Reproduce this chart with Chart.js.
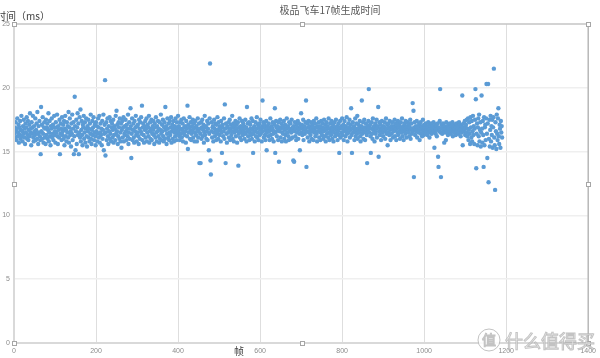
<!DOCTYPE html>
<html>
<head>
<meta charset="utf-8">
<script src="https://cdn.jsdelivr.net/npm/chart.js@4.4.1/dist/chart.umd.min.js"></script>
<style>
html,body{margin:0;padding:0;background:#fff;}
#wrap{width:600px;height:358px;position:relative;}
</style>
</head>
<body>
<div id="wrap"><canvas id="c" width="600" height="358"></canvas></div>
<script>
const chartTitle = "极品飞车17帧生成时间";
const yAxisTitle = "时间（ms）";
const xAxisTitle = "帧";
const xTicks = [0, 200, 400, 600, 800, 1000, 1200, 1400];
const yTicks = [0, 5, 10, 15, 20, 25];
// frame time (ms) for frames 1..1190
const frameTimes = [
16.4,16.9,16.1,17.3,16.6,15.9,16.8,17.6,16.2,16.5,17.1,15.7,16.9,16.3,17.4,16.0,16.7,17.8,16.2,16.6,
15.8,17.0,16.4,17.5,16.1,16.8,15.6,17.2,16.5,16.9,17.7,16.0,16.3,17.4,15.9,16.7,17.1,16.2,18.0,16.5,
16.8,15.5,17.3,16.4,16.9,17.8,16.1,15.8,17.0,16.6,16.3,17.6,15.9,16.7,17.2,16.0,18.1,16.4,15.6,17.0,
16.5,17.4,16.2,15.9,14.8,18.5,16.6,17.1,16.0,17.7,16.4,15.7,16.9,17.3,16.1,16.8,15.6,17.5,16.3,16.9,
17.2,16.0,16.7,18.0,15.8,16.5,17.4,16.2,15.5,17.0,16.8,17.6,16.1,16.4,17.1,15.9,16.9,17.8,16.3,16.6,
15.7,17.3,16.5,16.9,17.9,16.2,15.6,17.0,16.7,16.1,17.5,14.8,16.4,17.2,16.8,15.9,17.7,16.3,16.6,17.1,
16.0,17.4,15.5,16.8,17.8,16.2,16.7,15.8,17.3,16.5,17.0,16.1,18.1,15.7,16.9,17.6,16.3,16.6,15.4,17.2,
16.4,17.9,15.9,16.8,17.3,14.8,16.2,19.3,17.0,15.1,16.6,17.5,15.6,16.9,18.0,16.3,17.2,14.8,16.5,17.7,
16.1,18.3,15.8,16.7,17.4,16.3,15.5,17.1,16.9,17.8,16.0,16.5,17.3,15.7,16.8,17.6,16.2,15.4,17.0,16.6,
17.5,16.1,16.8,15.8,17.2,16.4,17.9,16.0,15.6,16.7,17.4,16.3,16.9,17.7,15.9,16.5,17.1,16.2,15.5,17.3,
16.6,17.0,15.8,16.4,17.6,16.9,16.1,17.8,15.7,16.5,17.2,16.3,16.8,15.5,17.4,16.0,16.7,17.9,15.1,16.4,
17.1,20.6,14.7,16.5,17.3,15.9,16.8,17.6,16.2,15.6,17.0,16.6,17.7,16.0,16.4,17.4,15.8,16.9,17.2,16.1,
16.7,17.5,15.7,16.3,17.0,16.8,15.9,17.8,16.4,18.2,16.6,17.1,15.6,16.2,17.3,16.9,16.0,17.6,16.5,15.8,
17.2,15.3,16.7,17.4,16.1,16.9,17.7,15.8,16.4,17.0,16.3,17.5,16.6,15.9,17.1,16.8,16.2,17.9,15.6,16.5,
17.3,16.0,16.8,18.4,17.0,14.5,16.4,17.6,15.9,16.7,17.2,16.1,15.7,17.4,16.6,16.9,17.8,16.3,15.8,17.0,
16.5,17.1,16.2,15.6,17.5,16.8,16.0,17.3,16.6,17.7,16.4,18.6,15.9,16.9,17.2,16.3,15.7,17.0,16.7,17.4,
16.1,16.8,17.6,15.8,16.5,17.1,16.9,16.2,17.8,15.7,16.6,17.3,16.0,16.8,17.5,15.9,16.4,17.0,16.7,17.4,
16.3,15.6,17.2,16.9,16.1,17.7,16.5,15.8,17.0,16.6,17.4,16.2,16.8,15.7,17.3,16.0,16.7,17.9,16.4,15.9,
17.1,16.6,17.5,16.2,15.8,16.9,17.3,16.0,18.5,16.7,17.0,15.6,16.4,17.6,16.8,16.1,17.2,15.9,16.5,17.4,
16.3,16.9,17.7,15.7,16.6,17.1,16.0,16.8,17.4,15.8,16.5,17.0,16.2,17.6,16.7,15.9,17.3,16.4,16.9,17.8,
16.6,17.0,16.2,15.9,17.3,16.8,16.4,17.5,16.1,16.7,17.2,15.8,16.5,17.6,16.9,16.3,17.0,16.6,15.7,17.4,
16.8,16.2,18.6,15.2,17.1,16.5,16.9,17.7,16.0,16.7,17.3,15.9,16.4,17.0,16.6,17.5,16.1,16.8,17.2,15.8,
16.5,17.4,16.9,16.3,17.0,15.8,16.7,17.6,16.1,16.6,17.2,14.1,16.8,16.4,14.1,17.3,16.0,16.9,17.5,16.2,
16.7,17.1,15.7,16.5,17.8,16.3,16.9,17.0,16.0,16.6,17.4,15.9,16.8,17.2,15.1,16.4,17.6,21.9,14.3,13.2,
16.6,17.3,16.1,16.9,17.0,15.8,16.5,17.5,16.8,16.2,17.2,16.7,15.9,17.1,16.4,17.7,16.6,16.0,17.3,16.8,
16.3,17.0,16.7,15.8,17.4,16.5,14.9,16.9,17.1,16.2,16.6,17.6,16.0,18.7,16.8,14.1,17.2,16.4,15.7,17.0,
16.9,16.5,17.3,16.1,16.7,17.5,15.9,16.8,17.1,16.3,16.6,17.8,16.0,16.9,17.2,15.8,16.5,17.0,16.7,17.4,
16.2,16.8,17.1,15.7,16.6,17.3,13.9,16.4,16.9,17.6,16.1,16.7,17.0,15.9,16.5,17.4,16.8,16.3,17.2,16.6,
17.0,16.0,16.8,17.5,16.4,16.9,15.8,18.5,16.6,17.2,16.2,16.7,17.3,15.9,16.5,17.1,16.8,16.3,17.6,16.0,
16.7,17.4,14.9,16.4,16.9,17.0,15.8,16.6,17.3,16.2,16.8,17.7,16.1,16.5,17.1,15.9,16.9,17.2,16.3,16.7,
17.5,16.4,16.8,15.8,17.0,19.0,16.6,17.3,16.1,16.9,17.1,16.3,15.9,16.7,17.4,15.1,16.5,17.0,16.8,16.2,
17.2,16.6,15.9,16.9,17.6,16.3,16.7,17.0,16.0,16.8,17.3,16.4,15.8,16.6,17.1,18.4,14.9,16.5,17.4,16.9,
16.2,17.0,16.7,15.9,17.3,14.2,16.6,16.9,17.5,16.1,16.8,17.2,15.8,16.5,17.0,16.4,16.9,17.4,16.0,16.7,
17.1,16.3,15.8,16.8,17.6,16.5,16.9,17.0,16.2,15.9,17.3,16.6,16.8,17.2,16.0,16.5,17.5,16.7,16.1,16.9,
14.3,17.0,14.2,16.6,17.3,16.2,16.8,15.9,17.1,16.5,16.9,17.4,16.0,16.7,17.2,16.4,15.1,16.8,17.0,18.0,
16.5,17.1,16.3,16.9,17.5,15.9,16.7,17.0,16.4,16.8,17.3,19.0,13.8,16.6,17.2,16.1,16.9,17.4,16.5,15.8,
17.0,16.7,16.3,17.3,16.8,16.0,16.6,17.1,16.9,15.9,17.4,16.5,16.7,17.2,16.2,16.9,17.6,16.4,15.8,17.0,
16.6,16.9,17.3,16.1,16.8,17.0,15.9,16.5,17.4,16.7,16.3,17.2,16.9,16.0,16.6,17.5,16.8,16.2,17.1,15.8,
16.7,17.3,16.4,16.9,17.0,16.1,17.6,16.5,15.9,16.8,17.2,16.6,16.3,17.4,16.9,16.0,16.7,17.1,15.8,16.5,
17.3,16.8,16.2,16.9,17.5,16.4,16.7,17.0,15.9,16.6,17.2,16.3,14.9,16.8,17.4,16.1,16.9,17.0,16.5,17.6,
16.3,16.8,17.1,15.9,16.6,17.4,16.9,16.2,17.0,16.7,17.7,16.4,15.8,16.8,17.2,16.5,16.9,17.5,16.1,16.7,
17.1,18.4,16.3,14.9,16.8,17.3,16.5,16.9,17.0,15.9,16.6,17.6,16.2,16.8,17.2,16.4,17.8,16.0,16.7,17.1,
16.5,16.9,17.4,16.2,15.8,16.7,17.0,19.0,16.4,16.8,17.3,16.0,16.6,17.5,16.9,15.9,16.5,17.2,16.8,16.3,
14.1,17.0,16.7,17.4,19.9,16.5,16.9,17.1,16.2,14.9,16.8,17.3,16.4,16.0,17.6,16.7,16.9,17.0,15.8,16.6,
17.2,16.4,16.8,17.5,16.1,16.9,17.0,18.5,14.6,16.6,17.3,16.3,16.8,17.1,15.9,16.7,17.4,16.5,16.9,16.2,
17.0,16.6,16.9,17.3,16.0,16.7,17.6,16.4,16.8,17.1,15.5,16.5,17.2,16.9,16.3,17.4,16.7,15.9,16.8,17.0,
16.4,17.3,16.8,16.1,17.0,16.6,16.9,17.5,16.2,16.7,17.2,15.9,16.8,17.0,16.5,17.4,16.3,16.9,17.1,16.6,
16.0,16.8,17.3,16.5,16.9,17.6,16.2,16.7,17.0,15.9,16.6,17.2,16.8,16.4,17.4,16.9,16.1,17.0,16.7,17.3,
16.5,16.8,17.1,16.2,16.9,17.5,16.0,16.7,17.2,16.4,16.8,18.8,16.6,18.2,13.0,16.9,17.3,16.3,16.7,17.0,
16.6,17.4,16.1,16.8,17.0,16.5,16.9,17.2,15.9,16.7,17.3,16.4,16.8,17.0,16.2,16.9,17.5,16.6,16.3,17.1,
16.7,16.9,16.4,17.2,16.6,16.8,17.0,16.3,16.9,17.3,16.5,16.7,16.1,17.1,16.8,16.6,17.2,16.4,16.9,17.0,
16.5,16.8,17.3,16.6,15.3,16.9,17.1,16.4,16.7,17.0,16.2,16.8,17.2,14.6,13.8,16.9,16.6,17.4,19.9,16.5,
13.0,16.8,17.1,16.4,16.9,17.2,16.6,16.7,15.7,17.0,16.5,16.8,15.9,17.3,16.6,16.9,17.0,16.3,16.8,17.1,
16.7,16.5,17.2,16.9,16.4,16.8,17.0,16.6,17.3,16.2,16.9,16.7,17.1,16.5,16.8,17.0,16.3,16.9,17.2,16.6,
16.8,17.0,16.4,16.9,17.3,16.6,16.7,17.1,16.2,16.8,17.0,16.5,19.4,15.5,16.9,17.2,16.6,16.8,17.4,16.3,
16.9,17.1,16.5,17.5,16.2,16.8,17.6,15.9,16.7,17.3,16.4,15.6,17.7,16.9,16.1,17.4,15.8,16.6,17.8,16.3,
17.0,15.6,16.8,17.5,19.9,19.1,13.7,16.4,17.2,15.5,16.9,17.6,16.2,17.9,15.8,16.7,17.3,15.4,16.5,19.4,
16.8,15.7,17.4,16.3,13.8,17.7,15.5,16.9,17.1,15.9,17.6,20.3,16.4,14.5,17.2,20.3,12.6,16.0,17.5,15.4,
16.7,17.8,15.8,17.0,16.3,17.5,15.3,16.9,17.7,21.5,16.1,15.5,12.0,17.3,16.6,15.2,17.9,16.4,15.9,17.6,
18.4,16.2,15.6,17.1,16.8,15.3,17.4,16.5,17.0,16.1
];
const frames = frameTimes.map((_, i) => i + 1);

const decor = {
  id: 'decor',
  beforeDraw(chart) {
    const ctx = chart.ctx;
    ctx.save();
    ctx.fillStyle = '#ffffff';
    ctx.fillRect(0, 0, chart.width, chart.height);
    ctx.restore();
  },
  afterDatasetsDraw(chart) {
    const ctx = chart.ctx;
    const a = chart.chartArea;
    ctx.save();
    ctx.strokeStyle = '#c4c4c4';
    ctx.lineWidth = 1.5;
    ctx.beginPath();
    ctx.moveTo(a.left, a.top); ctx.lineTo(a.right, a.top);
    ctx.stroke();
    ctx.strokeStyle = '#b8b8b8';
    ctx.lineWidth = 1.5;
    ctx.beginPath();
    ctx.moveTo(a.right, a.top); ctx.lineTo(a.right, a.bottom);
    ctx.stroke();
    ctx.strokeStyle = '#d9d9d9';
    ctx.lineWidth = 2;
    ctx.beginPath();
    ctx.moveTo(a.left, a.top); ctx.lineTo(a.left, a.bottom);
    ctx.moveTo(a.left, a.bottom); ctx.lineTo(a.right, a.bottom);
    ctx.stroke();
    const midX = 302, midY = (a.top + a.bottom) / 2;
    const pts = [[a.left, a.top], [midX, a.top], [a.right, a.top], [a.left, midY], [a.right, midY], [a.left, a.bottom], [midX, a.bottom], [a.right, a.bottom]];
    ctx.lineWidth = 1;
    ctx.strokeStyle = '#a6a6a6';
    ctx.fillStyle = '#ffffff';
    pts.forEach(p => {
      ctx.fillRect(Math.round(p[0]) - 2, Math.round(p[1]) - 2, 4, 4);
      ctx.strokeRect(Math.round(p[0]) - 2 + 0.5, Math.round(p[1]) - 2 + 0.5, 4, 4);
    });
    ctx.fillStyle = '#595959';
    ctx.font = '10px "Noto Sans CJK SC", sans-serif';
    ctx.textAlign = 'center';
    ctx.textBaseline = 'middle';
    ctx.fillText(chartTitle, 330, 10);
    ctx.fillStyle = '#404040';
    ctx.textAlign = 'left';
    ctx.fillText(yAxisTitle, -4, 16);
    ctx.textAlign = 'center';
    ctx.fillText(xAxisTitle, 239, 351);
    ctx.lineWidth = 1;
    ctx.strokeStyle = 'rgba(170,170,170,0.7)';
    ctx.fillStyle = 'rgba(255,255,255,0.85)';
    ctx.beginPath();
    ctx.arc(489, 340, 11, 0, Math.PI * 2);
    ctx.fill(); ctx.stroke();
    ctx.font = '14px "Noto Sans CJK SC", sans-serif';
    ctx.textAlign = 'center';
    ctx.fillText('值', 489, 340);
    ctx.strokeText('值', 489, 340);
    ctx.font = '18px "Noto Sans CJK SC", sans-serif';
    ctx.textAlign = 'left';
    ctx.fillText('什么值得买', 505, 341);
    ctx.strokeText('什么值得买', 505, 341);
    ctx.restore();
  }
};

new Chart(document.getElementById('c'), {
  type: 'scatter',
  data: {
    datasets: [{
      data: frames.map((f, i) => ({ x: f, y: frameTimes[i] })),
      backgroundColor: '#5b9bd5',
      borderColor: '#5b9bd5',
      borderWidth: 0,
      pointRadius: 2.2,
      pointHoverRadius: 2.2
    }]
  },
  options: {
    responsive: false,
    animation: false,
    devicePixelRatio: 1,
    layout: { padding: { left: 0, top: 24, right: 8.5, bottom: 0 } },
    plugins: { legend: { display: false }, tooltip: { enabled: false }, title: { display: false } },
    scales: {
      x: {
        type: 'linear', min: 0, max: 1400,
        afterFit(s) { s.height = 15; },
        afterBuildTicks(s) { s.ticks = xTicks.map(v => ({ value: v })); },
        grid: { color: ctx => (ctx.tick && (ctx.tick.value === 0 || ctx.tick.value === 1400)) ? 'rgba(0,0,0,0)' : '#dedede', lineWidth: 1, drawTicks: false },
        border: { display: false },
        ticks: { padding: 4, color: '#8c8c8c', font: { size: 7, family: 'Liberation Sans' }, maxRotation: 0, callback: v => String(v) }
      },
      y: {
        min: 0, max: 25,
        afterFit(s) { s.width = 14; },
        afterBuildTicks(s) { s.ticks = yTicks.map(v => ({ value: v })); },
        grid: { color: ctx => (ctx.tick && (ctx.tick.value === 0 || ctx.tick.value === 25)) ? 'rgba(0,0,0,0)' : '#efefef', lineWidth: 1.5, drawTicks: false },
        border: { display: false },
        ticks: { padding: 4, color: '#8c8c8c', font: { size: 7, family: 'Liberation Sans' }, callback: v => String(v) }
      }
    }
  },
  plugins: [decor]
});
</script>
</body>
</html>
